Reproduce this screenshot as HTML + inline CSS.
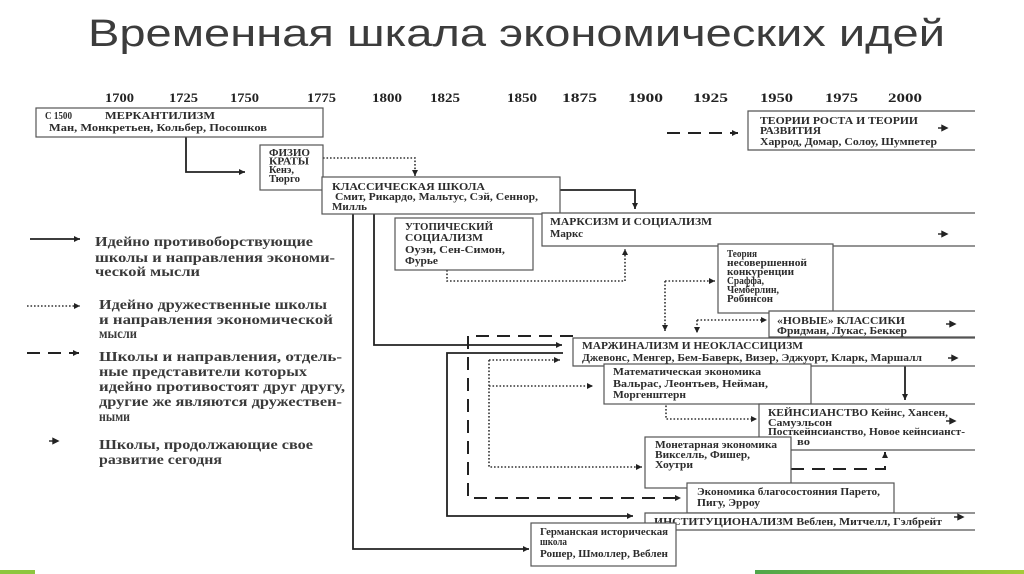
<!DOCTYPE html>
<html><head><meta charset="utf-8"><style>
html,body{margin:0;padding:0;background:#fff;}
svg{display:block;}
.t{font-family:"Liberation Serif","DejaVu Serif",serif;font-weight:bold;fill:#2c2c2c;font-size:11px;}
.s{font-size:10.5px;}
.y{font-family:"Liberation Serif",serif;font-weight:bold;fill:#222;font-size:13px;}
.lg{font-family:"Liberation Serif",serif;font-weight:bold;fill:#3a3a3a;font-size:14px;}
.bx{fill:#fff;stroke:#555;stroke-width:1.2;}
.sl{fill:none;stroke:#222;stroke-width:1.8;}
.dt{fill:none;stroke:#333;stroke-width:1.6;stroke-dasharray:1.6 1.9;}
.ds{fill:none;stroke:#222;stroke-width:2;stroke-dasharray:13 8;}
.ol{fill:none;stroke:#555;stroke-width:1.2;}
</style></head><body>
<svg width="1024" height="574" viewBox="0 0 1024 574" xmlns="http://www.w3.org/2000/svg">
<defs>
<marker id="ah" viewBox="0 0 10 10" refX="10" refY="5" markerUnits="userSpaceOnUse" markerWidth="7" markerHeight="6" orient="auto"><path d="M0,0L10,5L0,10z" fill="#222"/></marker>
<linearGradient id="gg" x1="0" x2="1" y1="0" y2="0"><stop offset="0" stop-color="#4fa64a"/><stop offset="1" stop-color="#a6cc3a"/></linearGradient>
</defs>
<rect width="1024" height="574" fill="#fff"/>

<text x="88" y="46" font-family="'Liberation Sans','DejaVu Sans',sans-serif" font-size="38" fill="#3c3c3c" textLength="857" lengthAdjust="spacingAndGlyphs">Временная шкала экономических идей</text>

<!-- years -->
<g class="y">
<text x="105" y="102" textLength="29" lengthAdjust="spacingAndGlyphs">1700</text>
<text x="169" y="102" textLength="29" lengthAdjust="spacingAndGlyphs">1725</text>
<text x="230" y="102" textLength="29" lengthAdjust="spacingAndGlyphs">1750</text>
<text x="307" y="102" textLength="29" lengthAdjust="spacingAndGlyphs">1775</text>
<text x="372" y="102" textLength="30" lengthAdjust="spacingAndGlyphs">1800</text>
<text x="430" y="102" textLength="30" lengthAdjust="spacingAndGlyphs">1825</text>
<text x="507" y="102" textLength="30" lengthAdjust="spacingAndGlyphs">1850</text>
<text x="562" y="102" textLength="35" lengthAdjust="spacingAndGlyphs">1875</text>
<text x="628" y="102" textLength="35" lengthAdjust="spacingAndGlyphs">1900</text>
<text x="693" y="102" textLength="35" lengthAdjust="spacingAndGlyphs">1925</text>
<text x="760" y="102" textLength="33" lengthAdjust="spacingAndGlyphs">1950</text>
<text x="825" y="102" textLength="33" lengthAdjust="spacingAndGlyphs">1975</text>
<text x="888" y="102" textLength="34" lengthAdjust="spacingAndGlyphs">2000</text>
</g>

<!-- connectors (behind boxes) -->
<path class="sl" d="M186,137V172H245" marker-end="url(#ah)"/>
<path class="dt" d="M323,158H415V176" marker-end="url(#ah)"/>
<path class="sl" d="M560,190H635V209" marker-end="url(#ah)"/>
<path class="dt" d="M447,270V281H625V249" marker-end="url(#ah)"/>
<path class="ds" d="M667,133H738" marker-end="url(#ah)"/>
<path class="dt" d="M665,281H715" marker-end="url(#ah)"/>
<path class="dt" d="M665,281V331" marker-end="url(#ah)"/>
<path class="dt" d="M697,320H767" marker-end="url(#ah)"/>
<path class="dt" d="M697,320V333" marker-end="url(#ah)"/>
<path class="sl" d="M353,214V549H529" marker-end="url(#ah)"/>
<path class="sl" d="M374,214V345H562" marker-end="url(#ah)"/>
<path class="sl" d="M563,353H447V516H633" marker-end="url(#ah)"/>
<path class="ds" d="M573,336H468V498H681" marker-end="url(#ah)"/>
<path class="dt" d="M489,360V467H642" marker-end="url(#ah)"/>
<path class="dt" d="M489,360H560" marker-end="url(#ah)"/>
<path class="dt" d="M489,386H593" marker-end="url(#ah)"/>
<path class="sl" d="M905,366V400" marker-end="url(#ah)"/>
<path class="dt" d="M666,402V419H757" marker-end="url(#ah)"/>
<path class="ds" d="M791,469H885V452" marker-end="url(#ah)"/>

<!-- boxes -->
<rect class="bx" x="36" y="108" width="287" height="29"/>
<text class="t s" x="45" y="119" textLength="27" lengthAdjust="spacingAndGlyphs">С 1500</text>
<text class="t" x="105" y="119" textLength="110" lengthAdjust="spacingAndGlyphs">МЕРКАНТИЛИЗМ</text>
<text class="t" x="49" y="131" textLength="218" lengthAdjust="spacingAndGlyphs">Ман, Монкретьен, Кольбер, Посошков</text>

<rect class="bx" x="260" y="145" width="63" height="45"/>
<text class="t s" x="269" y="156" textLength="41" lengthAdjust="spacingAndGlyphs">ФИЗИО</text>
<text class="t s" x="269" y="164.5" textLength="40" lengthAdjust="spacingAndGlyphs">КРАТЫ</text>
<text class="t s" x="269" y="173" textLength="25" lengthAdjust="spacingAndGlyphs">Кенэ,</text>
<text class="t s" x="269" y="182" textLength="31" lengthAdjust="spacingAndGlyphs">Тюрго</text>

<rect class="bx" x="322" y="177" width="238" height="37"/>
<text class="t" x="332" y="190" textLength="153" lengthAdjust="spacingAndGlyphs">КЛАССИЧЕСКАЯ ШКОЛА</text>
<text class="t" x="335" y="200" textLength="203" lengthAdjust="spacingAndGlyphs">Смит, Рикардо, Мальтус, Сэй, Сеннор,</text>
<text class="t" x="332" y="210" textLength="35" lengthAdjust="spacingAndGlyphs">Милль</text>

<rect x="748" y="111" width="227" height="39" fill="#fff"/>
<path class="ol" d="M975,111H748V150H975"/>
<text class="t" x="760" y="124" textLength="158" lengthAdjust="spacingAndGlyphs">ТЕОРИИ РОСТА И  ТЕОРИИ</text>
<text class="t" x="760" y="134" textLength="61" lengthAdjust="spacingAndGlyphs">РАЗВИТИЯ</text>
<text class="t" x="760" y="145" textLength="177" lengthAdjust="spacingAndGlyphs">Харрод, Домар, Солоу, Шумпетер</text>

<rect x="542" y="213" width="433" height="33" fill="#fff"/>
<path class="ol" d="M975,213H542V246H975"/>
<text class="t" x="550" y="225" textLength="162" lengthAdjust="spacingAndGlyphs">МАРКСИЗМ И СОЦИАЛИЗМ</text>
<text class="t" x="550" y="237" textLength="33" lengthAdjust="spacingAndGlyphs">Маркс</text>

<rect class="bx" x="395" y="218" width="138" height="52"/>
<text class="t" x="405" y="230" textLength="88" lengthAdjust="spacingAndGlyphs">УТОПИЧЕСКИЙ</text>
<text class="t" x="405" y="241" textLength="78" lengthAdjust="spacingAndGlyphs">СОЦИАЛИЗМ</text>
<text class="t" x="405" y="253" textLength="100" lengthAdjust="spacingAndGlyphs">Оуэн, Сен-Симон,</text>
<text class="t" x="405" y="264" textLength="33" lengthAdjust="spacingAndGlyphs">Фурье</text>

<rect class="bx" x="718" y="244" width="115" height="69"/>
<text class="t s" x="727" y="257" textLength="30" lengthAdjust="spacingAndGlyphs">Теория</text>
<text class="t s" x="727" y="266" textLength="80" lengthAdjust="spacingAndGlyphs">несовершенной</text>
<text class="t s" x="727" y="275" textLength="67" lengthAdjust="spacingAndGlyphs">конкуренции</text>
<text class="t s" x="727" y="284" textLength="37" lengthAdjust="spacingAndGlyphs">Сраффа,</text>
<text class="t s" x="727" y="293" textLength="52" lengthAdjust="spacingAndGlyphs">Чемберлин,</text>
<text class="t s" x="727" y="302" textLength="46" lengthAdjust="spacingAndGlyphs">Робинсон</text>

<rect x="769" y="311" width="206" height="26" fill="#fff"/>
<path class="ol" d="M975,311H769V337H975"/>
<text class="t" x="777" y="324" textLength="128" lengthAdjust="spacingAndGlyphs">«НОВЫЕ» КЛАССИКИ</text>
<text class="t" x="777" y="334" textLength="130" lengthAdjust="spacingAndGlyphs">Фридман, Лукас, Беккер</text>

<rect x="573" y="338" width="402" height="28" fill="#fff"/>
<path class="ol" d="M975,338H573V366H975"/>
<text class="t" x="582" y="349" textLength="221" lengthAdjust="spacingAndGlyphs">МАРЖИНАЛИЗМ И НЕОКЛАССИЦИЗМ</text>
<text class="t" x="582" y="361" textLength="340" lengthAdjust="spacingAndGlyphs">Джевонс, Менгер, Бем-Баверк, Визер, Эджуорт, Кларк, Маршалл</text>

<rect class="bx" x="604" y="364" width="207" height="40"/>
<text class="t" x="613" y="375" textLength="148" lengthAdjust="spacingAndGlyphs">Математическая экономика</text>
<text class="t" x="613" y="387" textLength="155" lengthAdjust="spacingAndGlyphs">Вальрас, Леонтьев, Нейман,</text>
<text class="t" x="613" y="398" textLength="73" lengthAdjust="spacingAndGlyphs">Моргенштерн</text>

<rect x="759" y="404" width="216" height="46" fill="#fff"/>
<path class="ol" d="M975,404H759V450H975"/>
<text class="t" x="768" y="416" textLength="180" lengthAdjust="spacingAndGlyphs">КЕЙНСИАНСТВО Кейнс, Хансен,</text>
<text class="t" x="768" y="426" textLength="64" lengthAdjust="spacingAndGlyphs">Самуэльсон</text>
<text class="t" x="768" y="435" textLength="197" lengthAdjust="spacingAndGlyphs">Посткейнсианство, Новое кейнсианст-</text>
<text class="t" x="797" y="445" textLength="13" lengthAdjust="spacingAndGlyphs">во</text>

<rect class="bx" x="645" y="437" width="146" height="51"/>
<text class="t" x="655" y="448" textLength="122" lengthAdjust="spacingAndGlyphs">Монетарная экономика</text>
<text class="t" x="655" y="458" textLength="95" lengthAdjust="spacingAndGlyphs">Викселль, Фишер,</text>
<text class="t" x="655" y="468" textLength="38" lengthAdjust="spacingAndGlyphs">Хоутри</text>

<rect class="bx" x="687" y="483" width="207" height="30"/>
<text class="t" x="697" y="495" textLength="183" lengthAdjust="spacingAndGlyphs">Экономика благосостояния Парето,</text>
<text class="t" x="697" y="506" textLength="63" lengthAdjust="spacingAndGlyphs">Пигу, Эрроу</text>

<rect x="645" y="513" width="330" height="17" fill="#fff"/>
<path class="ol" d="M975,513H645V530H975"/>
<text class="t" x="654" y="525" textLength="288" lengthAdjust="spacingAndGlyphs">ИНСТИТУЦИОНАЛИЗМ Веблен,  Митчелл,  Гэлбрейт</text>

<rect class="bx" x="531" y="523" width="145" height="43"/>
<text class="t" x="540" y="535" textLength="128" lengthAdjust="spacingAndGlyphs">Германская историческая</text>
<text class="t" x="540" y="545" textLength="27" lengthAdjust="spacingAndGlyphs">школа</text>
<text class="t" x="540" y="557" textLength="128" lengthAdjust="spacingAndGlyphs">Рошер, Шмоллер, Веблен</text>

<!-- continuation markers -->
<g fill="#222" stroke="#222" stroke-width="1.4">
<path d="M938,128H942"/><path d="M942,125.5L947,128L942,130.5z"/>
<path d="M938,234H942"/><path d="M942,231.5L947,234L942,236.5z"/>
<path d="M946,324H950"/><path d="M950,321.5L955,324L950,326.5z"/>
<path d="M948,358H952"/><path d="M952,355.5L957,358L952,360.5z"/>
<path d="M946,421H950"/><path d="M950,418.5L955,421L950,423.5z"/>
<path d="M954,517H958"/><path d="M958,514.5L963,517L958,519.5z"/>
</g>

<!-- legend -->
<path class="sl" d="M30,239H80" marker-end="url(#ah)"/>
<path class="dt" d="M27,306H80" marker-end="url(#ah)"/>
<path class="ds" d="M27,353H79" stroke-dasharray="16 9" marker-end="url(#ah)"/>
<g fill="#222" stroke="#222" stroke-width="1.4"><path d="M49,441H53"/><path d="M53,438.5L58,441L53,443.5z"/></g>

<g class="lg">
<text x="95" y="246" textLength="218" lengthAdjust="spacingAndGlyphs">Идейно противоборствующие</text>
<text x="95" y="262" textLength="240" lengthAdjust="spacingAndGlyphs">школы и направления экономи-</text>
<text x="95" y="276" textLength="105" lengthAdjust="spacingAndGlyphs">ческой мысли</text>
<text x="99" y="309" textLength="228" lengthAdjust="spacingAndGlyphs">Идейно дружественные школы</text>
<text x="99" y="324" textLength="234" lengthAdjust="spacingAndGlyphs">и   направления экономической</text>
<text x="99" y="338" textLength="38" lengthAdjust="spacingAndGlyphs">мысли</text>
<text x="99" y="361" textLength="243" lengthAdjust="spacingAndGlyphs">Школы и направления, отдель-</text>
<text x="99" y="376" textLength="208" lengthAdjust="spacingAndGlyphs">ные представители которых</text>
<text x="99" y="391" textLength="246" lengthAdjust="spacingAndGlyphs">идейно противостоят друг другу,</text>
<text x="99" y="406" textLength="243" lengthAdjust="spacingAndGlyphs">другие же являются дружествен-</text>
<text x="99" y="421" textLength="31" lengthAdjust="spacingAndGlyphs">ными</text>
<text x="99" y="449" textLength="214" lengthAdjust="spacingAndGlyphs">Школы, продолжающие свое</text>
<text x="99" y="464" textLength="123" lengthAdjust="spacingAndGlyphs">развитие сегодня</text>
</g>

<!-- green bars -->
<rect x="0" y="570" width="35" height="4" fill="#8dc63f"/>
<rect x="755" y="570" width="269" height="4" fill="url(#gg)"/>
</svg>
</body></html>
